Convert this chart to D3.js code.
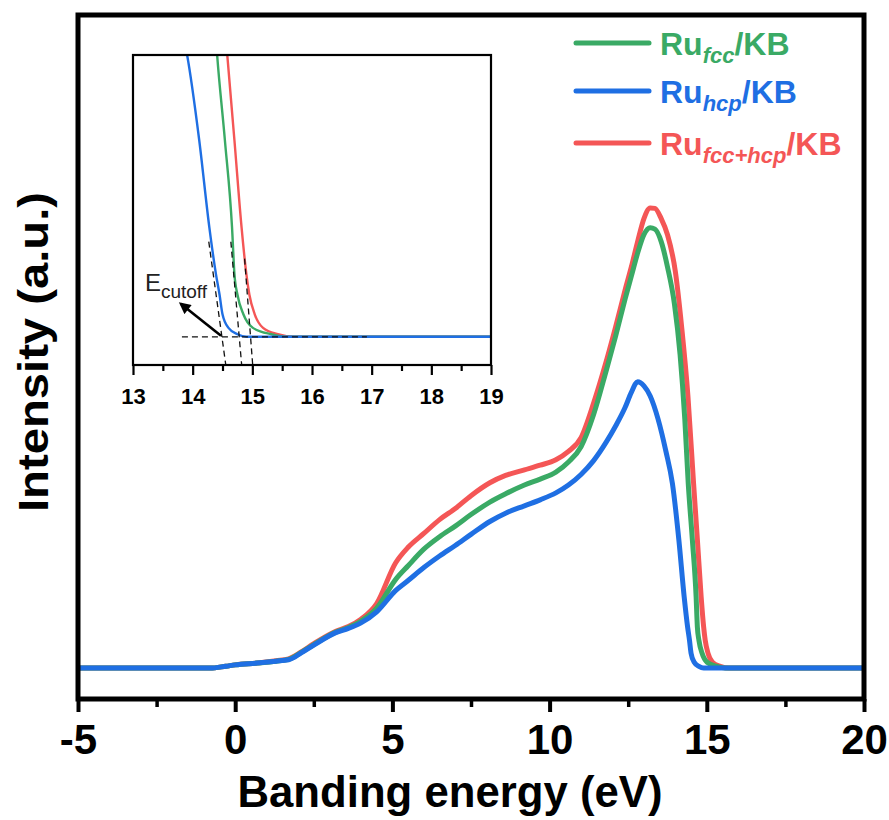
<!DOCTYPE html>
<html>
<head>
<meta charset="utf-8">
<script src="https://cdn.jsdelivr.net/npm/d3@7"></script>
<style>
  html, body { margin: 0; padding: 0; background: #fff; }
  svg { display: block; font-family: "Liberation Sans", Arial, sans-serif; }
</style>
</head>
<body>
<svg id="chart" width="889" height="820"></svg>
<script>
// UPS secondary-electron spectra of Ru/KB catalysts

// Ru_fcc/KB
const fccEnergy = [-5, -0.8, -0.3, 0, 0.7, 1.3, 1.7, 2.1, 2.5, 3.2, 3.6, 4.0, 4.5, 5.1, 5.5, 6.0, 6.5, 7.0, 7.5, 8.1, 8.6, 9.2, 9.7, 10.2, 10.6, 11.0, 11.4, 11.8, 12.1, 12.4, 12.6, 12.8, 13.0, 13.2, 13.35, 13.55, 13.75, 13.97, 14.15, 14.3, 14.41, 14.54, 14.66, 14.70, 14.75, 14.85, 15.01, 15.32, 15.6, 20];
const fccIntensity = [0, 0, 0.004, 0.007, 0.011, 0.015, 0.019, 0.034, 0.051, 0.078, 0.088, 0.102, 0.130, 0.192, 0.222, 0.258, 0.285, 0.308, 0.333, 0.360, 0.378, 0.397, 0.410, 0.425, 0.447, 0.480, 0.550, 0.645, 0.720, 0.800, 0.850, 0.900, 0.940, 0.955, 0.952, 0.925, 0.870, 0.790, 0.680, 0.540, 0.400, 0.279, 0.155, 0.089, 0.060, 0.032, 0.0127, 0.0037, 0, 0];

// Ru_hcp/KB
const hcpEnergy = [-5, -0.8, -0.3, 0, 0.7, 1.3, 1.7, 2.1, 2.5, 3.2, 3.6, 4.0, 4.5, 5.1, 5.5, 6.0, 6.5, 7.0, 7.5, 8.1, 8.6, 9.2, 9.7, 10.2, 10.6, 11.0, 11.4, 11.8, 12.1, 12.4, 12.6, 12.8, 13.0, 13.2, 13.45, 13.7, 13.907, 14.11, 14.28, 14.39, 14.45, 14.50, 14.60, 14.75, 14.9, 20];
const hcpIntensity = [0, 0, 0.004, 0.007, 0.011, 0.015, 0.018, 0.033, 0.050, 0.077, 0.086, 0.098, 0.122, 0.168, 0.190, 0.218, 0.243, 0.266, 0.290, 0.318, 0.336, 0.352, 0.365, 0.380, 0.397, 0.420, 0.450, 0.490, 0.525, 0.565, 0.598, 0.621, 0.612, 0.590, 0.540, 0.470, 0.400, 0.279, 0.155, 0.089, 0.060, 0.032, 0.0127, 0.0037, 0, 0];

// Ru_fcc+hcp/KB
const mixEnergy = [-5, -0.8, -0.3, 0, 0.7, 1.3, 1.7, 2.1, 2.5, 3.2, 3.6, 4.0, 4.5, 5.1, 5.5, 6.0, 6.5, 7.0, 7.5, 8.1, 8.6, 9.2, 9.7, 10.2, 10.6, 11.0, 11.4, 11.8, 12.1, 12.4, 12.6, 12.8, 13.0, 13.2, 13.35, 13.55, 13.75, 14.0, 14.2, 14.4, 14.58, 14.70, 14.82, 14.90, 14.95, 15.04, 15.18, 15.43, 15.7, 20];
const mixIntensity = [0, 0, 0.004, 0.007, 0.011, 0.016, 0.020, 0.035, 0.053, 0.080, 0.090, 0.106, 0.140, 0.228, 0.262, 0.292, 0.322, 0.346, 0.374, 0.402, 0.418, 0.430, 0.440, 0.452, 0.470, 0.500, 0.575, 0.665, 0.740, 0.820, 0.870, 0.925, 0.975, 0.998, 0.997, 0.975, 0.940, 0.860, 0.740, 0.590, 0.400, 0.279, 0.155, 0.089, 0.060, 0.032, 0.0127, 0.0037, 0, 0];

const seriesNames = ["Ru_fcc/KB", "Ru_hcp/KB", "Ru_fcc+hcp/KB"];
const seriesColors = ["#3aaa65", "#1f6fe3", "#f45656"];

// axis ticks
const mainTicks = [-5, 0, 5, 10, 15, 20];
const insetTicks = [13, 14, 15, 16, 17, 18, 19];

// secondary-electron cutoff construction (tangent lines meeting the baseline)
const cutoffValues = [14.49, 14.78, 14.97];
const tangentTopE = [14.27, 14.64, 14.87];
const tangentTopI = [0.135, 0.135, 0.111];
const baselineDashE = [13.82, 16.92];

const series = [
  { name: seriesNames[0], color: seriesColors[0], pts: fccEnergy.map((e, i) => [e, fccIntensity[i]]) },
  { name: seriesNames[1], color: seriesColors[1], pts: hcpEnergy.map((e, i) => [e, hcpIntensity[i]]) },
  { name: seriesNames[2], color: seriesColors[2], pts: mixEnergy.map((e, i) => [e, mixIntensity[i]]) }
];
// drawing order: mixed, fcc, hcp on top
const drawOrder = [2, 0, 1];

const svg = d3.select("#chart");
const defs = svg.append("defs");

// ---------- main panel ----------
const M = { left: 78, right: 864, top: 15, bottom: 699 };
const x = d3.scaleLinear().domain([-5, 20]).range([M.left, M.right]);
const y = d3.scaleLinear().domain([-0.067, 1.4165]).range([M.bottom, M.top]);

defs.append("clipPath").attr("id", "mainClip")
  .append("rect").attr("x", M.left).attr("y", M.top).attr("width", M.right - M.left).attr("height", M.bottom - M.top);

const line = d3.line().x(d => x(d[0])).y(d => y(d[1])).curve(d3.curveMonotoneX);
const gMain = svg.append("g").attr("clip-path", "url(#mainClip)");
drawOrder.forEach(k => {
  gMain.append("path").datum(series[k].pts)
    .attr("d", line).attr("fill", "none")
    .attr("stroke", series[k].color).attr("stroke-width", 5)
    .attr("stroke-linejoin", "round").attr("stroke-linecap", "round");
});

// frame
svg.append("rect").attr("x", M.left).attr("y", M.top)
  .attr("width", M.right - M.left).attr("height", M.bottom - M.top)
  .attr("fill", "none").attr("stroke", "#000").attr("stroke-width", 5);

// x axis with minor ticks
const xAxis = svg.append("g").attr("transform", `translate(0,${M.bottom})`);
xAxis.call(d3.axisBottom(x).tickValues(d3.range(-2.5, 20, 5)).tickSize(8).tickFormat(""))
  .call(g => g.select(".domain").remove())
  .call(g => g.selectAll("line").attr("stroke-width", 3.5));
xAxis.append("g")
  .call(d3.axisBottom(x).tickValues(mainTicks).tickSize(13).tickPadding(12).tickFormat(d => String(d)))
  .call(g => g.select(".domain").remove())
  .call(g => g.selectAll("line").attr("stroke-width", 4))
  .call(g => g.selectAll("text").attr("font-size", 42).attr("font-weight", "bold")
    .attr("font-family", "Liberation Sans, Arial, sans-serif").attr("fill", "#000"));

svg.append("text").attr("x", 450).attr("y", 807)
  .attr("text-anchor", "middle").attr("font-size", 44).attr("font-weight", "bold")
  .attr("textLength", 425).attr("lengthAdjust", "spacingAndGlyphs")
  .text("Banding energy (eV)");

svg.append("text").attr("transform", `translate(48,352) rotate(-90)`)
  .attr("text-anchor", "middle").attr("font-size", 42).attr("font-weight", "bold")
  .attr("textLength", 320).attr("lengthAdjust", "spacingAndGlyphs")
  .text("Intensity (a.u.)");

// ---------- legend ----------
const legendY = [43, 91, 143];
const legendSub = ["fcc", "hcp", "fcc+hcp"];
const legend = svg.append("g");
series.forEach((s, i) => {
  legend.append("line").attr("x1", 576).attr("x2", 649)
    .attr("y1", legendY[i]).attr("y2", legendY[i])
    .attr("stroke", s.color).attr("stroke-width", 5).attr("stroke-linecap", "round");
  const t = legend.append("text").attr("x", 660).attr("y", legendY[i] + 12)
    .attr("fill", s.color).attr("font-size", 32).attr("font-weight", "bold");
  t.append("tspan").text("Ru");
  t.append("tspan").attr("dy", 8).attr("font-size", 22).attr("font-style", "italic").text(legendSub[i]);
  t.append("tspan").attr("dy", -8).text("/KB");
});

// ---------- inset ----------
const I = { left: 133, right: 491, top: 55, bottom: 365 };
const xi = d3.scaleLinear().domain([13, 19]).range([I.left, I.right]);
const yi = d3.scaleLinear().domain([-0.040, 0.40]).range([I.bottom, I.top]);

svg.append("rect").attr("x", I.left).attr("y", I.top)
  .attr("width", I.right - I.left).attr("height", I.bottom - I.top).attr("fill", "#fff");

defs.append("clipPath").attr("id", "insetClip")
  .append("rect").attr("x", I.left).attr("y", I.top).attr("width", I.right - I.left).attr("height", I.bottom - I.top);

const gIn = svg.append("g").attr("clip-path", "url(#insetClip)");
const lineIn = d3.line().x(d => xi(d[0])).y(d => yi(d[1])).curve(d3.curveMonotoneX);
drawOrder.forEach(k => {
  gIn.append("path").datum(series[k].pts)
    .attr("d", lineIn).attr("fill", "none")
    .attr("stroke", series[k].color).attr("stroke-width", 2.4)
    .attr("stroke-linejoin", "round");
});

// dashed construction lines
gIn.append("line").attr("x1", xi(baselineDashE[0])).attr("x2", xi(baselineDashE[1]))
  .attr("y1", yi(0)).attr("y2", yi(0))
  .attr("stroke", "#111").attr("stroke-width", 1.3).attr("stroke-dasharray", "6,4");
cutoffValues.forEach((c, i) => {
  const e0 = tangentTopE[i], i0 = tangentTopI[i];
  const slope = (c - e0) / (0 - i0);
  const iBot = -0.040;
  const eBot = e0 + slope * (iBot - i0);
  gIn.append("line").attr("x1", xi(e0)).attr("y1", yi(i0))
    .attr("x2", xi(eBot)).attr("y2", yi(iBot))
    .attr("stroke", "#111").attr("stroke-width", 1.3).attr("stroke-dasharray", "6,4");
});

// inset frame and axis
svg.append("rect").attr("x", I.left).attr("y", I.top)
  .attr("width", I.right - I.left).attr("height", I.bottom - I.top)
  .attr("fill", "none").attr("stroke", "#000").attr("stroke-width", 2.2);

const xiAxis = svg.append("g").attr("transform", `translate(0,${I.bottom})`);
xiAxis.call(d3.axisBottom(xi).tickValues(d3.range(13.5, 19, 1)).tickSize(6).tickFormat(""))
  .call(g => g.select(".domain").remove())
  .call(g => g.selectAll("line").attr("stroke-width", 2.2));
xiAxis.append("g")
  .call(d3.axisBottom(xi).tickValues(insetTicks).tickSize(10).tickPadding(13).tickFormat(d3.format("d")))
  .call(g => g.select(".domain").remove())
  .call(g => g.selectAll("line").attr("stroke-width", 2.2))
  .call(g => g.selectAll("text").attr("font-size", 22).attr("font-weight", "bold")
    .attr("font-family", "Liberation Sans, Arial, sans-serif").attr("fill", "#000"));

// E_cutoff annotation with arrow
defs.append("marker").attr("id", "arrowHead")
  .attr("viewBox", "0 0 10 10").attr("refX", 8).attr("refY", 5)
  .attr("markerWidth", 5).attr("markerHeight", 4.5).attr("orient", "auto")
  .append("path").attr("d", "M0,0 L10,5 L0,10 Z").attr("fill", "#000");
svg.append("line").attr("x1", xi(14.475)).attr("y1", yi(0.0014))
  .attr("x2", xi(13.80)).attr("y2", yi(0.047))
  .attr("stroke", "#000").attr("stroke-width", 2.6).attr("marker-end", "url(#arrowHead)");
const eLabel = svg.append("text").attr("x", xi(13.2)).attr("y", yi(0.065))
  .attr("font-size", 24).attr("fill", "#222");
eLabel.append("tspan").text("E");
eLabel.append("tspan").attr("dy", 7).attr("font-size", 19).text("cutoff");
</script>
</body>
</html>
